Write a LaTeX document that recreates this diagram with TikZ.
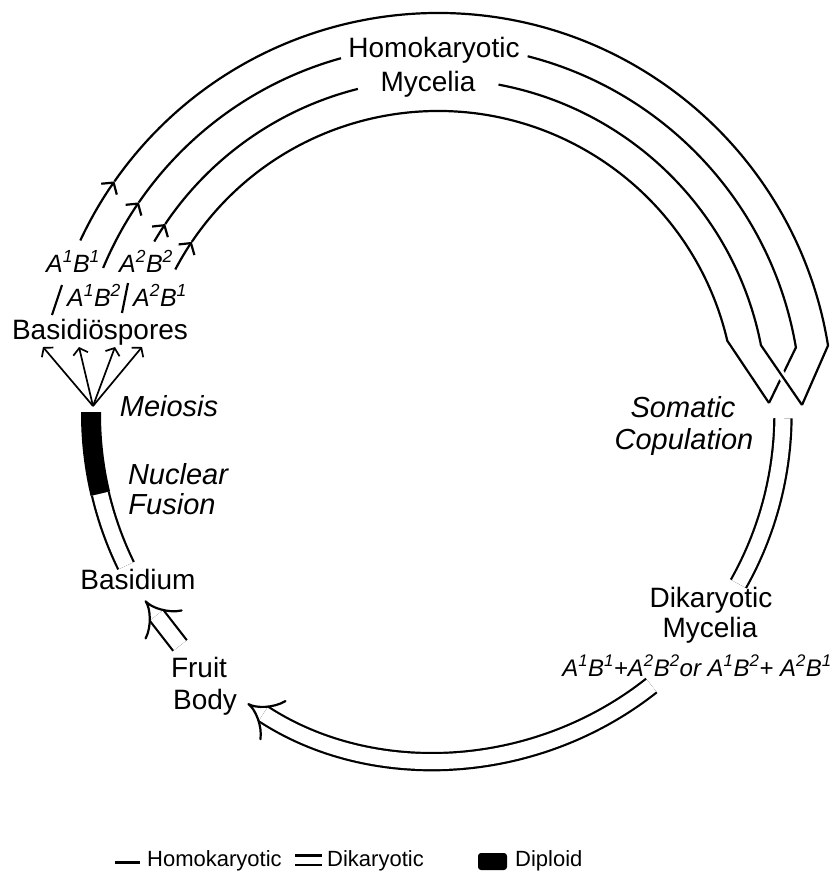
\documentclass[tikz,border=0pt]{standalone}
\usepackage{fontspec}
\setmainfont{Liberation Sans}
\usepackage{tikz}
\usetikzlibrary{arrows.meta, positioning}
\tikzstyle{homo}=[line width=2.2pt, color=black]
\tikzstyle{dika}=[double, double distance=15pt, line width=2.2pt]
\tikzstyle{spore}=[-{Straight Barb[length=6pt, width=15pt]}, line width=1.7pt]
\tikzstyle{barb}=[-{Straight Barb[length=8pt, width=19pt]}]
\newcommand{\geno}[2]{A\textsuperscript{#1}B\textsuperscript{#2}}

\begin{document}
\begin{tikzpicture}[x=1pt, y=-1pt,
  lbl/.style={font=\fontsize{28}{32}\selectfont, anchor=base, inner sep=2pt},
  stage/.style={font=\fontsize{29}{33}\selectfont\itshape, anchor=base, inner sep=2pt},
  gtype/.style={font=\fontsize{25}{29}\selectfont\itshape, anchor=base, inner sep=1pt},
  legend/.style={font=\fontsize{22}{26}\selectfont, anchor=base west, inner sep=0pt}
]
\useasboundingbox (0,0) rectangle (833,875);

% labels round the cycle
\node[lbl] (homo) at (434,57) {Homokaryotic};
\node[lbl, below=35pt of homo.base, anchor=base, xshift=-6pt] (hmyc) {Mycelia};
\node[lbl] (spores) at (100,339) {Basidiöspores};
\node[gtype] (g11) at (73,272) {\geno11};
\node[gtype] (g22) at (146,272) {\geno22};
\node[gtype] (g12) at (94,306) {\geno12};
\node[gtype] (g21) at (160,306) {\geno21};
\node[stage] (meiosis) at (169,416) {Meiosis};
\node[stage] (nuclear) at (178,484) {Nuclear};
\node[stage, below=30pt of nuclear.base, anchor=base, xshift=-6pt] (fusion) {Fusion};
\node[lbl] (basidium) at (138,589) {Basidium};
\node[lbl] (fruit) at (199,677) {Fruit};
\node[lbl, below=32pt of fruit.base, anchor=base, xshift=6pt] (body) {Body};
\node[stage] (somatic) at (683,417) {Somatic};
\node[stage, below=32pt of somatic.base, anchor=base, xshift=1pt] (copul) {Copulation};
\node[lbl] (dika) at (711,607) {Dikaryotic};
\node[lbl, below=30pt of dika.base, anchor=base, xshift=-1pt] (dmyc) {Mycelia};
\node[gtype, font=\fontsize{24}{28}\selectfont\itshape] (pairs) at (697,676)
  {\geno11+\geno22or \geno12+ \geno21};

% spores
\coordinate (meio) at (93,406);
\foreach \dx in {-57,-21,15,42}
  \draw[spore] (meio) -- ([xshift=\dx pt]spores.south);
\draw[homo] (52,315) -- (62,285);
\draw[homo] (122,313) -- (128,283);

% homokaryotic mycelia
\coordinate (vl) at (769,403);
\coordinate (vr) at (802,405);
\begin{scope}[shift={(438,408)}]
  \coordinate (k3) at (349:329);
  % A2B1
  \draw[homo, barb] (207.8:297) arc[start angle=207.8, end angle=214, radius=297];
  \draw[homo] (214:297) arc[start angle=214, end angle=346.9, radius=297] -- (vl);
  % A1B2
  \draw[homo, barb] (202.7:363) arc[start angle=202.7, end angle=214.5, radius=363];
  \draw[homo] (214.5:363) arc[start angle=214.5, end angle=254.5, radius=363];
  \draw[homo] (284.3:363) arc[start angle=284.3, end angle=350.4, radius=363] -- (vl);
  \draw[white, line width=8pt, shorten <=26pt, shorten >=26pt] (k3) -- (vr);
  % A2B2
  \draw[homo, barb] (210.4:329) arc[start angle=210.4, end angle=214, radius=329];
  \draw[homo] (214:329) arc[start angle=214, end angle=255.9, radius=329];
  \draw[homo] (280.6:329) arc[start angle=280.6, end angle=349, radius=329] -- (vr);
  % A1B1
  \draw[homo, barb] (205.1:395) arc[start angle=205.1, end angle=215, radius=395];
  \draw[homo] (215:395) arc[start angle=215, end angle=350.9, radius=395] -- (vr);
\end{scope}

% dikaryotic mycelia and diploid
\begin{scope}[shift={(437,414)}]
  \draw[dika] (0.7:346) arc[start angle=0.7, end angle=29.4, radius=346];
  \draw[dika, -Implies] (51.7:346) arc[start angle=51.7, end angle=123.2, radius=346];
  \draw[dika] (154:346) arc[start angle=154, end angle=166.7, radius=346];
  \fill (166.7:336) arc[start angle=166.7, end angle=180.3, radius=336]
     -- (180.3:356) arc[start angle=180.3, end angle=166.7, radius=356] -- cycle;
\end{scope}
\draw[dika, -Implies] ([xshift=-19pt, yshift=9pt]fruit.north) -- ([xshift=7pt, yshift=-9pt]basidium.south);

% legend
\draw[homo, line width=3pt] (115,862) -- (140,862);
\node[legend] (lhomo) at (147,866) {Homokaryotic};
\draw[dika, double distance=7pt] (295,860) -- (322,860);
\node[legend] (ldika) at (327,866) {Dikaryotic};
\fill[rounded corners=3pt] (478,853) rectangle (507,870);
\node[legend] (ldip) at (515,866) {Diploid};
\end{tikzpicture}
\end{document}
